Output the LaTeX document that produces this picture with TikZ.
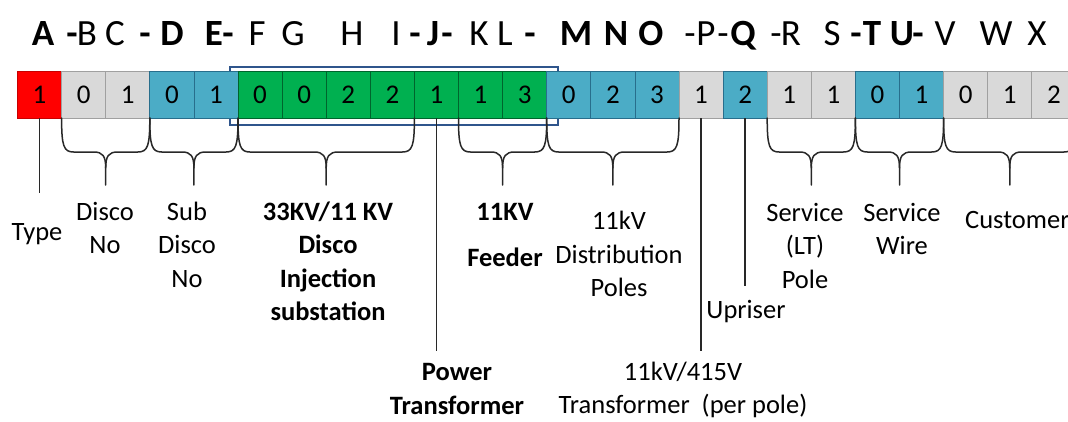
\documentclass[tikz,border=0pt]{standalone}
\usepackage{fontspec}
\setmainfont{Carlito}
\usetikzlibrary{calc}
\definecolor{cred}{RGB}{255,0,0}
\definecolor{credline}{RGB}{200,0,0}
\definecolor{cgray}{RGB}{217,217,217}
\definecolor{cgrayline}{RGB}{160,160,160}
\definecolor{cblue}{RGB}{75,172,198}
\definecolor{cblueline}{RGB}{40,110,140}
\definecolor{cgreen}{RGB}{0,176,80}
\definecolor{cgreenline}{RGB}{0,100,45}
\definecolor{cbox}{RGB}{47,85,140}
\definecolor{cline}{RGB}{40,40,40}
\begin{document}
\begin{tikzpicture}[x=1pt,y=-1pt,
  cell/.style={draw, line width=0.7pt, minimum width=44.1pt, minimum height=47pt,
    inner sep=0pt, outer sep=0pt, font=\fontsize{27}{30}\selectfont},
  cr/.style={fill=cred, draw=credline},
  cg/.style={fill=cgray, draw=cgrayline},
  cb/.style={fill=cblue, draw=cblueline},
  cn/.style={fill=cgreen, draw=cgreenline},
  hd/.style={anchor=base, inner sep=0pt, font=\fontsize{37}{40}\selectfont},
  hdb/.style={anchor=base, inner sep=0pt, font=\fontsize{37}{40}\selectfont\bfseries},
  lbl/.style={anchor=base, inner sep=0pt, font=\fontsize{26.5}{33.5}\selectfont},
  lblb/.style={anchor=base, inner sep=0pt, font=\fontsize{26.5}{33.5}\selectfont\bfseries},
  conn/.style={draw=cline, line width=1.5pt},
  bracepath/.style={draw=cline, line width=1.5pt, line join=round, line cap=round},
  hlbox/.style={draw=cbox, line width=2.8pt}
]
\useasboundingbox (0,0) rectangle (1068,421);
\clip (0,0) rectangle (1068,421);
\fill[white] (0,0) rectangle (1068,421);

% header letters
\foreach \x/\t/\s [count=\i] in {43/A/hdb, 72/-/hdb, 87/B/hd, 115/C/hd, 145/-/hdb, 172/D/hdb,
  214/E/hdb, 228/-/hdb, 257/F/hd, 293/G/hd, 352/H/hd, 396/I/hd, 415/-/hdb, 433/J/hdb, 447/-/hdb,
  479/K/hd, 505/L/hd, 530/-/hdb, 576/M/hdb, 616/N/hdb, 651/O/hdb, 690/-/hd, 706/P/hd, 723/-/hd,
  743/Q/hdb, 776/-/hd, 791/R/hd, 832/S/hd, 856/-/hdb, 872/T/hdb, 902/U/hdb, 918/-/hdb,
  945/V/hd, 996/W/hd, 1037/X/hd}
  \node[\s] (h\i) at (\x,45) {\t};

% highlight box (behind cells)
\draw[hlbox] (230,67) rectangle (558,125);

% cells
\foreach \d/\s [count=\i from 0] in {1/cr,0/cg,1/cg,0/cb,1/cb,0/cn,0/cn,2/cn,2/cn,1/cn,1/cn,3/cn,
  0/cb,2/cb,3/cb,1/cg,2/cb,1/cg,1/cg,0/cb,1/cb,0/cg,1/cg,2/cg}
  \node[cell,\s] (c\i) at ({17.5+44.1*(\i+0.5)},94.5) {\d};

% braces
\foreach \a/\b in {1/2,3/4,5/8,10/11,12/14,17/18,19/20,21/23}{
  \coordinate (L) at (c\a.south west);
  \coordinate (R) at (c\b.south east);
  \coordinate (M) at ($(L)!.5!(R)$);
  \draw[bracepath] (L) .. controls ($(L)+(0,28)$) and ($(L)+(2,34)$) .. ($(L)+(12,34)$)
    -- ($(M)+(-12,34)$) .. controls ($(M)+(-3,34)$) and ($(M)+(0,38)$) .. ($(M)+(0,50)$)
    -- ($(M)+(0,67)$);
  \draw[bracepath] (R) .. controls ($(R)+(0,28)$) and ($(R)+(-2,34)$) .. ($(R)+(-12,34)$)
    -- ($(M)+(12,34)$) .. controls ($(M)+(3,34)$) and ($(M)+(0,38)$) .. ($(M)+(0,50)$);
}

% connector lines
\coordinate (typeEnd) at ($(c0.south)+(0,75)$);
\coordinate (ptEnd) at ($(c9.south)+(0,233)$);
\coordinate (dtEnd) at ($(c15.south)+(0,233)$);
\coordinate (upEnd) at ($(c16.south)+(0,168)$);
\draw[conn] (c0.south) -- (typeEnd);
\draw[conn] (c9.south) -- (ptEnd);
\draw[conn] (c15.south) -- (dtEnd);
\draw[conn] (c16.south) -- (upEnd);

% labels
\node[lbl] (type) at (37,240) {Type};
\node[lbl] (disco) at (105,220) {\begin{tabular}[t]{@{}c@{}}Disco\\No\end{tabular}};
\node[lbl] (subdisco) at (187,220) {\begin{tabular}[t]{@{}c@{}}Sub\\Disco\\No\end{tabular}};
\node[lblb] (subst) at (328,220) {\begin{tabular}[t]{@{}c@{}}33KV/11 KV\\Disco\\Injection\\substation\end{tabular}};
\node[lblb] (feeder) at (505,220) {\begin{tabular}[t]{@{}c@{}}11KV\\[13pt]Feeder\end{tabular}};
\node[lbl] (poles) at (619,229.5) {\begin{tabular}[t]{@{}c@{}}11kV\\Distribution\\Poles\end{tabular}};
\node[lbl] (ltpole) at (805,221) {\begin{tabular}[t]{@{}c@{}}Service\\(LT)\\Pole\end{tabular}};
\node[lbl] (wire) at (902,221) {\begin{tabular}[t]{@{}c@{}}Service\\Wire\end{tabular}};
\node[lbl, anchor=base west] (cust) at (965,228) {Customer};
\node[lbl] (upriser) at (746,318) {Upriser};
\node[lblb] (ptrans) at (457,380) {\begin{tabular}[t]{@{}c@{}}Power\\[1pt]Transformer\end{tabular}};
\node[lbl] (dtrans) at (683,380) {\begin{tabular}[t]{@{}c@{}}11kV/415V\\[0pt]Transformer\ \ (per pole)\end{tabular}};
\end{tikzpicture}
\end{document}
